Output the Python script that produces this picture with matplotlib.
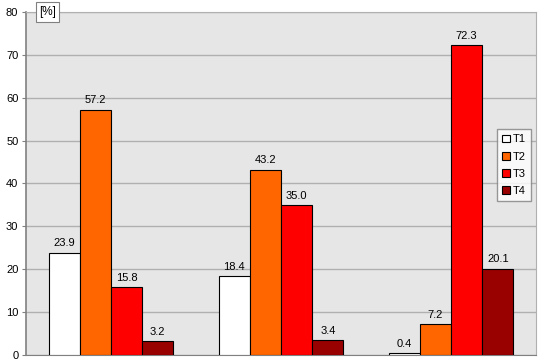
import matplotlib
matplotlib.use("Agg")
import matplotlib.pyplot as plt
import numpy as np

plt.rcParams['font.family'] = ['Liberation Sans', 'DejaVu Sans']

groups = ["A", "B", "C"]
series = ["T1", "T2", "T3", "T4"]
T1 = [23.9, 18.4, 0.4]
T2 = [57.2, 43.2, 7.2]
T3 = [15.8, 35.0, 72.3]
T4 = [3.2, 3.4, 20.1]
colors = ["#ffffff", "#ff6600", "#ff0000", "#990000"]
yticks = [0, 10, 20, 30, 40, 50, 60, 70, 80]

fig = plt.figure(figsize=(5.39, 3.61), dpi=100)
ax = fig.add_axes([26/539, 6/361, (536-26)/539, (355-12)/361])
ax.set_facecolor("#e6e6e6")

x = np.arange(len(groups))
w = 31/169
data = [T1, T2, T3, T4]
for i, (vals, c, name) in enumerate(zip(data, colors, series)):
    pos = x + (i - 1.5) * w
    ax.bar(pos, vals, width=w, color=c, edgecolor="#000000", linewidth=0.8,
           label=name, zorder=3)
    for p, v in zip(pos, vals):
        ax.text(p, v + 1.5, f"{v:.1f}", ha="center", va="baseline", fontsize=8, zorder=4)

ax.set_xlim(-0.5, 2.5)
ax.set_ylim(0, 80)
ax.set_yticks(yticks)
ax.set_yticklabels([str(t) for t in yticks], fontsize=8)
ax.set_xticks([])
ax.yaxis.grid(True, color="#b0b0b0", linewidth=1, zorder=0)
ax.set_axisbelow(True)
for s in ["top", "right"]:
    ax.spines[s].set_color("#b0b0b0")
ax.spines["left"].set_color("#808080")
ax.spines["left"].set_linewidth(1.2)
ax.spines["bottom"].set_color("#808080")
ax.tick_params(axis="y", length=3, color="#808080", pad=2.5)

leg = ax.legend(loc="upper right", bbox_to_anchor=(0.990, 0.658), fontsize=8,
                frameon=True, fancybox=False, handlelength=0.7, handleheight=0.7,
                handletextpad=0.3, borderpad=0.45, labelspacing=0.65, borderaxespad=0.0)
leg.get_frame().set_edgecolor("#808080")
leg.get_frame().set_facecolor("#ffffff")

fig.text(47.5/539, 1 - 12/361, "[%]", ha="center", va="center", fontsize=8.5,
         bbox=dict(boxstyle="square,pad=0.3", fc="white", ec="#808080", lw=0.8))

fig.savefig("out.png", dpi=100)
